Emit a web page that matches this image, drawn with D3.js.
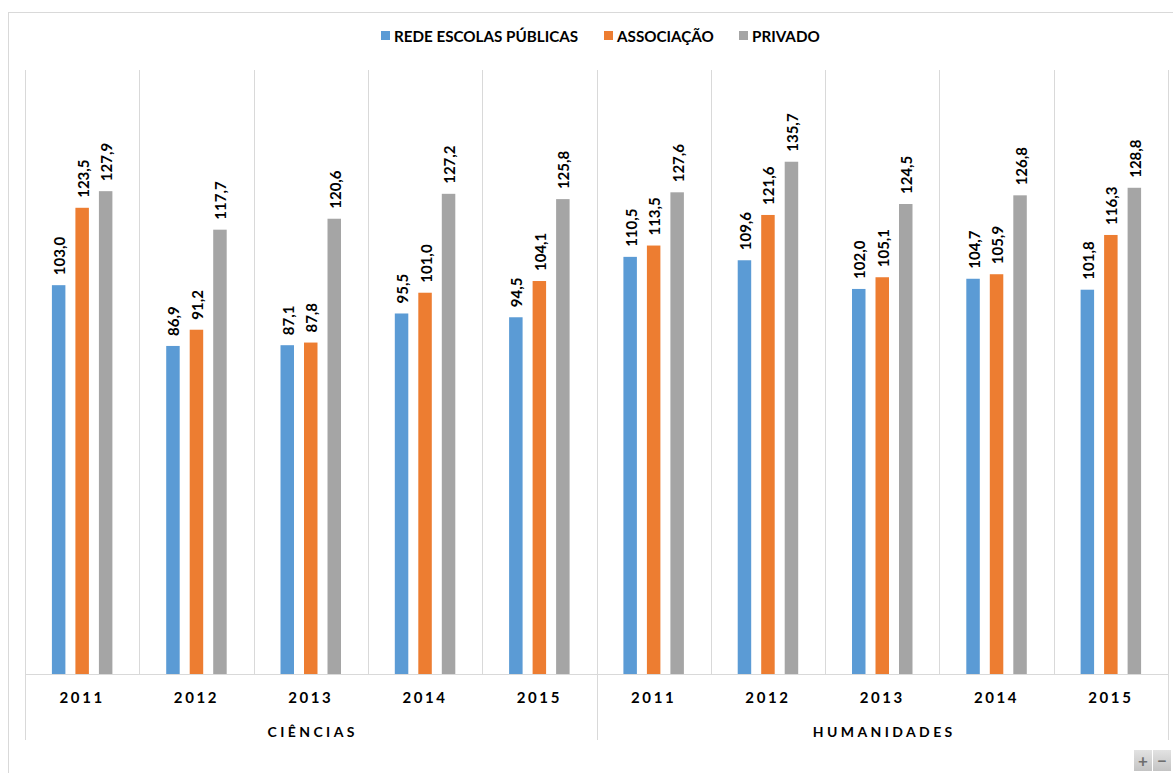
<!DOCTYPE html>
<html><head><meta charset="utf-8">
<script src="https://cdn.jsdelivr.net/npm/d3@7"></script>
<style>
html,body{margin:0;padding:0;background:#fff;}
text{font-family:Lato,"Open Sans",sans-serif;font-weight:bold;fill:#000;}
</style></head>
<body><svg id="c" width="1173" height="773"></svg>
<script>
const groups = ["CIÊNCIAS", "HUMANIDADES"];
const years = ["2011", "2012", "2013", "2014", "2015"];
const seriesNames = ["REDE ESCOLAS PÚBLICAS", "ASSOCIAÇÃO", "PRIVADO"];
const publicas = [103.0, 86.9, 87.1, 95.5, 94.5, 110.5, 109.6, 102.0, 104.7, 101.8];
const associacao = [123.5, 91.2, 87.8, 101.0, 104.1, 113.5, 121.6, 105.1, 105.9, 116.3];
const privado = [127.9, 117.7, 120.6, 127.2, 125.8, 127.6, 135.7, 124.5, 126.8, 128.8];
const colors = ["#5B9BD5", "#ED7D31", "#A5A5A5"];

const svg = d3.select("#c");
const pLeft = 25, pRight = 1168, pTop = 70, pBase = 674;

const cats = [];
groups.forEach(g => years.forEach(y => cats.push(g + "|" + y)));
const seriesVals = [publicas, associacao, privado];

const x = d3.scaleBand().domain(cats).range([pLeft, pRight]).paddingInner(0).paddingOuter(0);
const xs = d3.scaleBand().domain(seriesNames).range([0, x.bandwidth()]).paddingInner(0.426).paddingOuter(1.145);
const y = d3.scaleLinear().domain([0, 160]).range([pBase, pTop]);

// chart border
svg.append("rect").attr("x", 8.5).attr("y", 12.5).attr("width", 1200).attr("height", 800)
  .attr("fill", "none").attr("stroke", "#d9d9d9").attr("stroke-width", 1);

// vertical gridlines
const grid = svg.append("g");
cats.forEach((c, i) => {
  const gx = Math.round(x(c)) + 0.5;
  const isGroupEdge = (i % years.length === 0);
  grid.append("line").attr("x1", gx).attr("x2", gx).attr("y1", pTop).attr("y2", isGroupEdge ? 740 : pBase)
    .attr("stroke", "#d9d9d9").attr("stroke-width", 1);
});
grid.append("line").attr("x1", pRight + 0.5).attr("x2", pRight + 0.5).attr("y1", pTop).attr("y2", 740)
  .attr("stroke", "#d9d9d9").attr("stroke-width", 1);
grid.append("line").attr("x1", pLeft).attr("x2", pRight).attr("y1", pBase + 0.5).attr("y2", pBase + 0.5)
  .attr("stroke", "#d9d9d9").attr("stroke-width", 1.2);

// bars
const fmt = v => v.toFixed(1).replace(".", ",");
seriesNames.forEach((s, si) => {
  const g = svg.append("g");
  g.selectAll("rect").data(seriesVals[si]).enter().append("rect")
    .attr("x", (d, i) => x(cats[i]) + xs(s))
    .attr("width", xs.bandwidth())
    .attr("y", d => y(d))
    .attr("height", d => pBase - y(d))
    .attr("fill", colors[si]);
  g.selectAll("text").data(seriesVals[si]).enter().append("text")
    .attr("transform", (d, i) => `translate(${x(cats[i]) + xs(s) + xs.bandwidth() / 2 + 0.5},${y(d) - 10}) rotate(-90)`)
    .attr("dominant-baseline", "central")
    .attr("text-anchor", "start")
    .style("font-size", "15px")
    .text(d => fmt(d));
});

// year axis labels
const xAxis = d3.axisBottom(x).tickSize(0).tickFormat(c => c.split("|")[1]);
const ax = svg.append("g").attr("transform", `translate(0,${pBase})`).call(xAxis);
ax.select(".domain").remove();
ax.selectAll("text").attr("dy", null).attr("y", 23).attr("dominant-baseline", "central")
  .style("font-family", "Lato, sans-serif").style("font-weight", "bold").style("font-size", "15px")
  .style("letter-spacing", "2.6px").attr("fill", "#000");

// group labels
groups.forEach((g, gi) => {
  const x0 = x(g + "|" + years[0]), x1 = x(g + "|" + years[years.length - 1]) + x.bandwidth();
  svg.append("text").attr("x", (x0 + x1) / 2 + 2).attr("y", 731).attr("text-anchor", "middle")
    .attr("dominant-baseline", "central")
    .style("font-size", "14px").style("letter-spacing", "3.4px").text(g);
});

// legend
const legendX = [381, 604, 739];
seriesNames.forEach((s, si) => {
  svg.append("rect").attr("x", legendX[si]).attr("y", 31).attr("width", 9).attr("height", 9).attr("fill", colors[si]);
  svg.append("text").attr("x", legendX[si] + 13).attr("y", 36).attr("dominant-baseline", "central")
    .style("font-size", "15.2px").text(s);
});

// zoom control buttons
const zb = svg.append("g");
const grad = svg.append("defs").append("linearGradient").attr("id", "zg").attr("x1", 0).attr("x2", 0).attr("y1", 0).attr("y2", 1);
grad.append("stop").attr("offset", "0%").attr("stop-color", "#e2e2e2");
grad.append("stop").attr("offset", "100%").attr("stop-color", "#c4c4c4");
zb.append("rect").attr("x", 1134).attr("y", 750).attr("width", 18).attr("height", 21).attr("fill", "url(#zg)");
zb.append("rect").attr("x", 1153).attr("y", 750).attr("width", 18).attr("height", 21).attr("fill", "url(#zg)");
zb.append("text").attr("x", 1143).attr("y", 760.5).attr("text-anchor", "middle").attr("dominant-baseline", "central")
  .style("font-size", "17px").style("font-weight", "bold").style("fill", "#6e6e6e").text("+");
zb.append("text").attr("x", 1162).attr("y", 760.5).attr("text-anchor", "middle").attr("dominant-baseline", "central")
  .style("font-size", "17px").style("font-weight", "bold").style("fill", "#6e6e6e").text("−");
</script></body></html>
